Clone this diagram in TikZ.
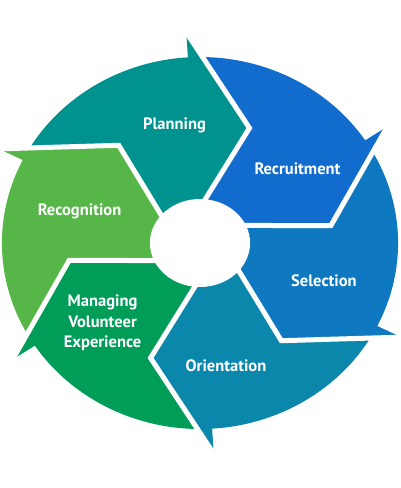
\documentclass[tikz,border=0pt]{standalone}
\usepackage{fontspec}
\setmainfont{PT Sans}
\usepackage{xcolor}
\usetikzlibrary{calc}
\definecolor{planteal}{HTML}{00928F}
\definecolor{recruitblue}{HTML}{116CCE}
\definecolor{selectblue}{HTML}{0E78C1}
\definecolor{orientblue}{HTML}{0B87AC}
\definecolor{managegreen}{HTML}{009D58}
\definecolor{recoggreen}{HTML}{56B648}
\newcommand{\cyclepiece}[2]{%
	\fill[#2] ($(#1+68.5:211)!0.2574!(#1+43:124)$) -- (#1+43:124) -- ($(#1+43:124)!1.2!(#1+57:47)$)
		-- ($(#1-17:124)!1.2!(#1-3:47)$) -- (#1-17:124) -- (#1+8.5:211) -- (#1+8.5:186)
		arc[start angle=#1+8.5, end angle=#1+64.26, radius=186] -- cycle;
}
\tikzset{steplabel/.style={font=\bfseries\fontsize{16.5}{20.5}\selectfont, text=white, align=center, inner sep=0pt}}

\begin{document}
\begin{tikzpicture}[x=1.065pt,y=1pt]
	% Fixed white canvas, same proportions as the original figure.
	\path[use as bounding box] (-187.8,-245) rectangle (187.8,243);
	\fill[white] (-187.8,-245) rectangle (187.8,243);

	% The six arrow pieces of the cycle, each named by its leading edge angle.
	\cyclepiece{85}{planteal}
	\cyclepiece{25}{recruitblue}
	\cyclepiece{-35}{selectblue}
	\cyclepiece{-95}{orientblue}
	\cyclepiece{-155}{managegreen}
	\cyclepiece{145}{recoggreen}

	% White gaps between neighbouring pieces.
	\foreach \b in {85,25,-35,-95,-155,145} {
		\draw[white, line width=5pt, line join=miter]
			(\b+8.5:211) -- (\b-17:124) -- ($(\b-17:124)!1.2!(\b-3:47)$);
	}

	% Hole in the middle.
	\fill[white] (0,0) ellipse[x radius=47, y radius=44];

	% Step labels.
	\node[steplabel, anchor=base] (planning) at (-23.9,113.7) {Planning};
	\node[steplabel, anchor=base] (recruitment) at (91.5,69) {Recruitment};
	\node[steplabel, anchor=base] (selection) at (116.4,-43.7) {Selection};
	\node[steplabel, anchor=base] (orientation) at (24.4,-128) {Orientation};
	\node[steplabel] (managing) at (-91.5,-80) {Managing\\Volunteer\\Experience};
	\node[steplabel, anchor=base] (recognition) at (-113.1,28) {Recognition};
\end{tikzpicture}
\end{document}
